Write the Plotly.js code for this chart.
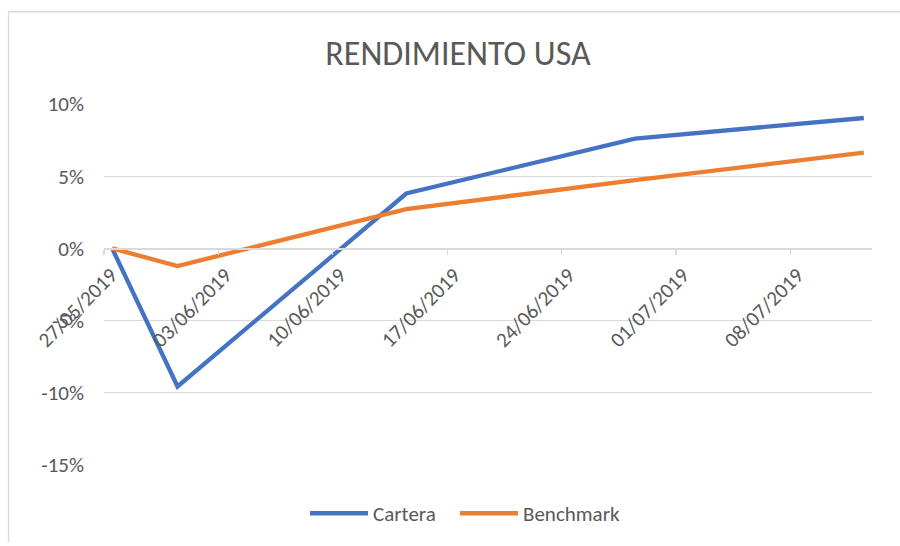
<!DOCTYPE html>
<html>
<head>
<meta charset="utf-8">
<script src="https://cdn.plot.ly/plotly-3.0.1.min.js"></script>
<style>
html,body{margin:0;padding:0;background:#fff;}
#chart{width:900px;height:546px;}
</style>
</head>
<body>
<div id="chart"></div>
<script>
const dates = ['2019-05-27','2019-05-31','2019-06-14','2019-06-28','2019-07-12'];
const cartera = [0, -0.0956, 0.0380, 0.0760, 0.0903];
const benchmark = [0, -0.0122, 0.0272, 0.0472, 0.0663];
const seriesNames = ['Cartera','Benchmark'];
const titleText = 'RENDIMIENTO USA';
const yTickVals = [-0.15, -0.10, -0.05, 0, 0.05, 0.10];
const yTickText = ['-15%','-10%','-5%','0%','5%','10%'];

const FONT = 'Carlito, Calibri, "Noto Sans", sans-serif';
const TXT = '#595959';
const GRID = '#d9d9d9';
const DAY = 86400000;

// plot area in pixels
const L = 104, R = 28, T = 104, B = 78;
const W = 900 - L - R, H = 546 - T - B;
const px = x => (x - L) / W;
const py = y => (546 - B - y) / H;

const traces = [
  {x: dates, y: cartera, name: seriesNames[0], type: 'scatter', mode: 'lines',
   xperiod: DAY, xperiodalignment: 'middle', legend: 'legend',
   line: {color: '#4472C4', width: 4.3}},
  {x: dates, y: benchmark, name: seriesNames[1], type: 'scatter', mode: 'lines',
   xperiod: DAY, xperiodalignment: 'middle', legend: 'legend2',
   line: {color: '#ED7D31', width: 4.3}}
];

const legendStyle = (xPix) => ({
  orientation: 'h', x: px(xPix), xanchor: 'left', y: py(517), yanchor: 'middle',
  font: {family: FONT, size: 21, color: TXT}, itemwidth: 58, bgcolor: 'rgba(0,0,0,0)'
});

const yMin = -0.15, yMax = 0.10;
const layout = {
  width: 900, height: 546,
  margin: {l: L, r: R, t: T, b: B, pad: 0},
  paper_bgcolor: '#fff', plot_bgcolor: '#fff',
  font: {family: FONT, color: TXT, size: 21},
  title: {text: titleText, font: {family: FONT, size: 34, color: TXT},
          x: px(458), xref: 'paper', xanchor: 'center',
          y: 1 - 53/546, yref: 'container', yanchor: 'middle'},
  showlegend: true,
  legend: legendStyle(305),
  legend2: legendStyle(455),
  xaxis: {
    type: 'date', range: ['2019-05-27', '2019-07-13'],
    tick0: '2019-05-27', dtick: 7*DAY, tickformat: '%d/%m/%Y',
    tickangle: -45, showgrid: false, zeroline: false,
    showline: true, linecolor: GRID, linewidth: 1.3,
    ticks: 'outside', ticklen: 5, tickcolor: GRID, tickwidth: 1.3,
    ticklabelshift: 7,
    anchor: 'free', position: (0 - yMin) / (yMax - yMin),
    tickfont: {family: FONT, size: 21, color: TXT}
  },
  yaxis: {
    range: [yMin, yMax], tickmode: 'array', tickvals: yTickVals, ticktext: yTickText,
    showgrid: true, gridcolor: GRID, gridwidth: 1.3,
    zeroline: false, showline: false, ticks: '',
    ticklabelstandoff: 19,
    tickfont: {family: FONT, size: 21, color: TXT}
  },
  shapes: [
    {type: 'line', xref: 'paper', yref: 'paper', x0: px(8.5), x1: px(900), y0: py(11), y1: py(11),
     line: {color: GRID, width: 1.3}},
    {type: 'line', xref: 'paper', yref: 'paper', x0: px(8.5), x1: px(8.5), y0: py(11), y1: py(546),
     line: {color: GRID, width: 1.3}}
  ]
};

Plotly.newPlot('chart', traces, layout, {displayModeBar: false, staticPlot: true});
</script>
</body>
</html>
